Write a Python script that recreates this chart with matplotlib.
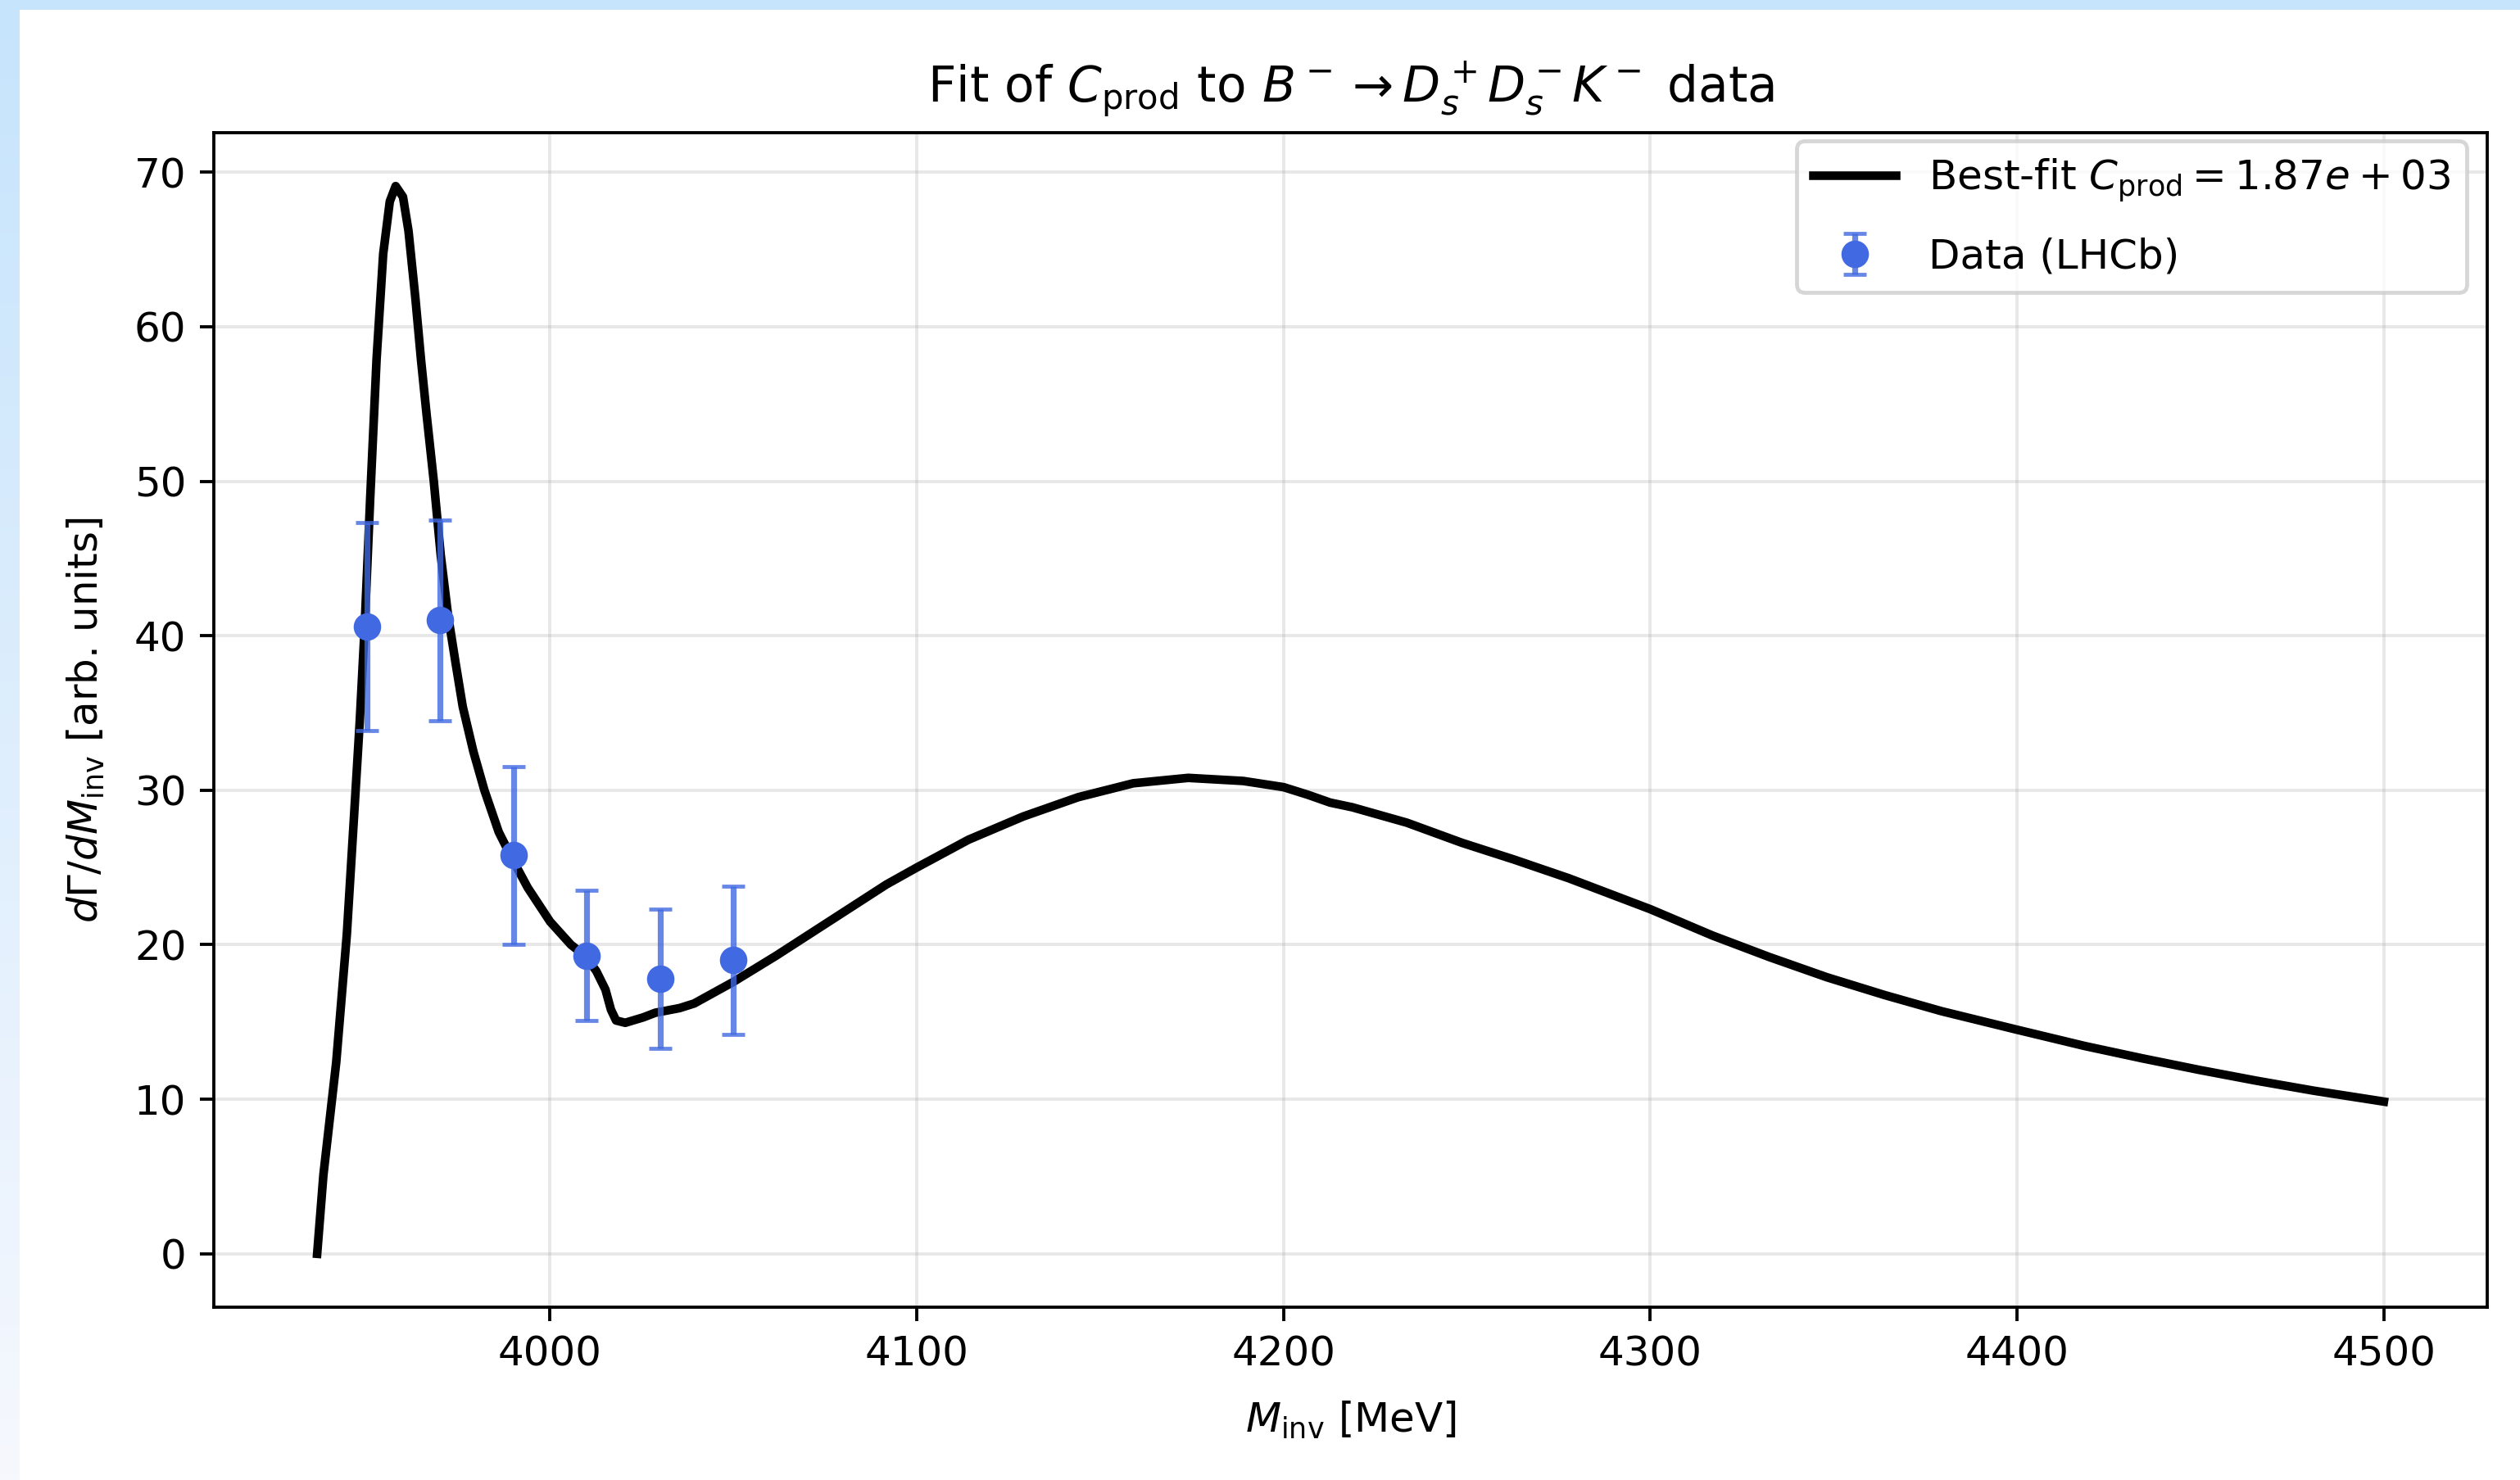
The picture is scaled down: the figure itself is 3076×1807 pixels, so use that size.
import numpy as np
import matplotlib
matplotlib.use("Agg")
import matplotlib.pyplot as plt
from matplotlib.patches import Rectangle

# best-fit curve
m_curve = [3936.5, 3938.2, 3941.7, 3944.6, 3946.6, 3948.1, 3949.4, 3951.0, 3952.7,
           3954.5, 3956.3, 3957.9, 3959.9, 3961.4, 3963.3, 3964.8, 3966.3, 3968.3,
           3970.2, 3972.2, 3974.2, 3976.2, 3979.1, 3982.1, 3986.0, 3989.6, 3993.9,
           4000.0, 4005.7, 4009.5, 4012.6, 4015.1, 4016.6, 4018.0, 4020.5, 4025.4,
           4028.7, 4035.3, 4039.3, 4050.0, 4061.7, 4076.7, 4091.7, 4100.0, 4114.1,
           4129.0, 4144.0, 4159.0, 4174.0, 4189.0, 4200.0, 4206.7, 4212.7, 4218.7,
           4233.6, 4248.6, 4263.0, 4277.8, 4300.0, 4316.9, 4332.5, 4348.1, 4363.8,
           4379.4, 4400.0, 4418.4, 4434.1, 4449.7, 4465.3, 4481.0, 4500.0]
rate_curve = [0.0, 5.1, 12.4, 20.7, 28.5, 34.4, 40.3, 49.1, 57.9,
              64.7, 68.1, 69.1, 68.4, 66.2, 61.8, 57.9, 54.4, 50.0,
              45.2, 41.3, 38.3, 35.4, 32.5, 30.0, 27.3, 25.6, 23.7,
              21.5, 20.0, 19.3, 18.3, 17.1, 15.8, 15.1, 14.95, 15.3,
              15.6, 15.9, 16.2, 17.6, 19.3, 21.6, 23.9, 25.0, 26.8,
              28.3, 29.55, 30.45, 30.8, 30.6, 30.2, 29.7, 29.2, 28.9,
              27.9, 26.6, 25.5, 24.3, 22.3, 20.6, 19.2, 17.9, 16.75,
              15.7, 14.5, 13.45, 12.65, 11.9, 11.2, 10.55, 9.85]

# LHCb data points
m_data = [3950, 3970, 3990, 4010, 4030, 4050]
rate_data = [40.6, 41.0, 25.8, 19.3, 17.8, 19.0]
rate_err = [6.75, 6.5, 5.75, 4.2, 4.5, 4.8]

c_prod = 1.87e3

W, H, DPI = 3077, 1807, 345
plt.rcParams["font.size"] = 10.45
plt.rcParams["axes.titlesize"] = 12.5

fig = plt.figure(figsize=(W / DPI, H / DPI), dpi=DPI)
fig.patch.set_facecolor("white")

# screenshot frame: blue strip on top, fading strip on the left
fig.patches.append(Rectangle((0, 1 - 12 / H), 1, 12 / H, transform=fig.transFigure,
                             facecolor="#c6e4fc", edgecolor="none", zorder=-5))
strip = fig.add_axes([0, 0, 24 / W, 1 - 12 / H], zorder=-5)
top_col = np.array([198, 228, 252]) / 255
bot_col = np.array([246, 248, 254]) / 255
t = np.linspace(0, 1, 256)[:, None, None]
strip.imshow(top_col * (1 - t) + bot_col * t, aspect="auto", extent=[0, 1, 0, 1])
strip.axis("off")

ax = fig.add_axes([261 / W, 1 - 1596 / H, (3036 - 261) / W, (1596 - 162) / H])

ax.plot(m_curve, rate_curve, color="black", lw=2.2,
        label=r"Best-fit $C_{\rm prod} = %.2e$" % c_prod)
eb = ax.errorbar(m_data, rate_data, yerr=rate_err, fmt="o", color="royalblue",
                 ecolor="royalblue", markersize=6, capsize=3, elinewidth=1.5,
                 label="Data (LHCb)")
for c in eb[1]:
    c.set_alpha(0.8)
for c in eb[2]:
    c.set_alpha(0.8)

ax.set_xlabel(r"$M_{\rm inv}$ [MeV]", labelpad=6.5)
ax.set_ylabel(r"$d\Gamma/dM_{\rm inv}$ [arb. units]", labelpad=7)
ax.set_title(r"Fit of $C_{\rm prod}$ to $B^- \to D_s^+ D_s^- K^-$ data", pad=7.7)
ax.grid(True, alpha=0.3)
ax.legend(loc="upper right", bbox_to_anchor=(1, 1.0105), labelspacing=0.8)

fig.savefig("out.png", dpi=DPI)
